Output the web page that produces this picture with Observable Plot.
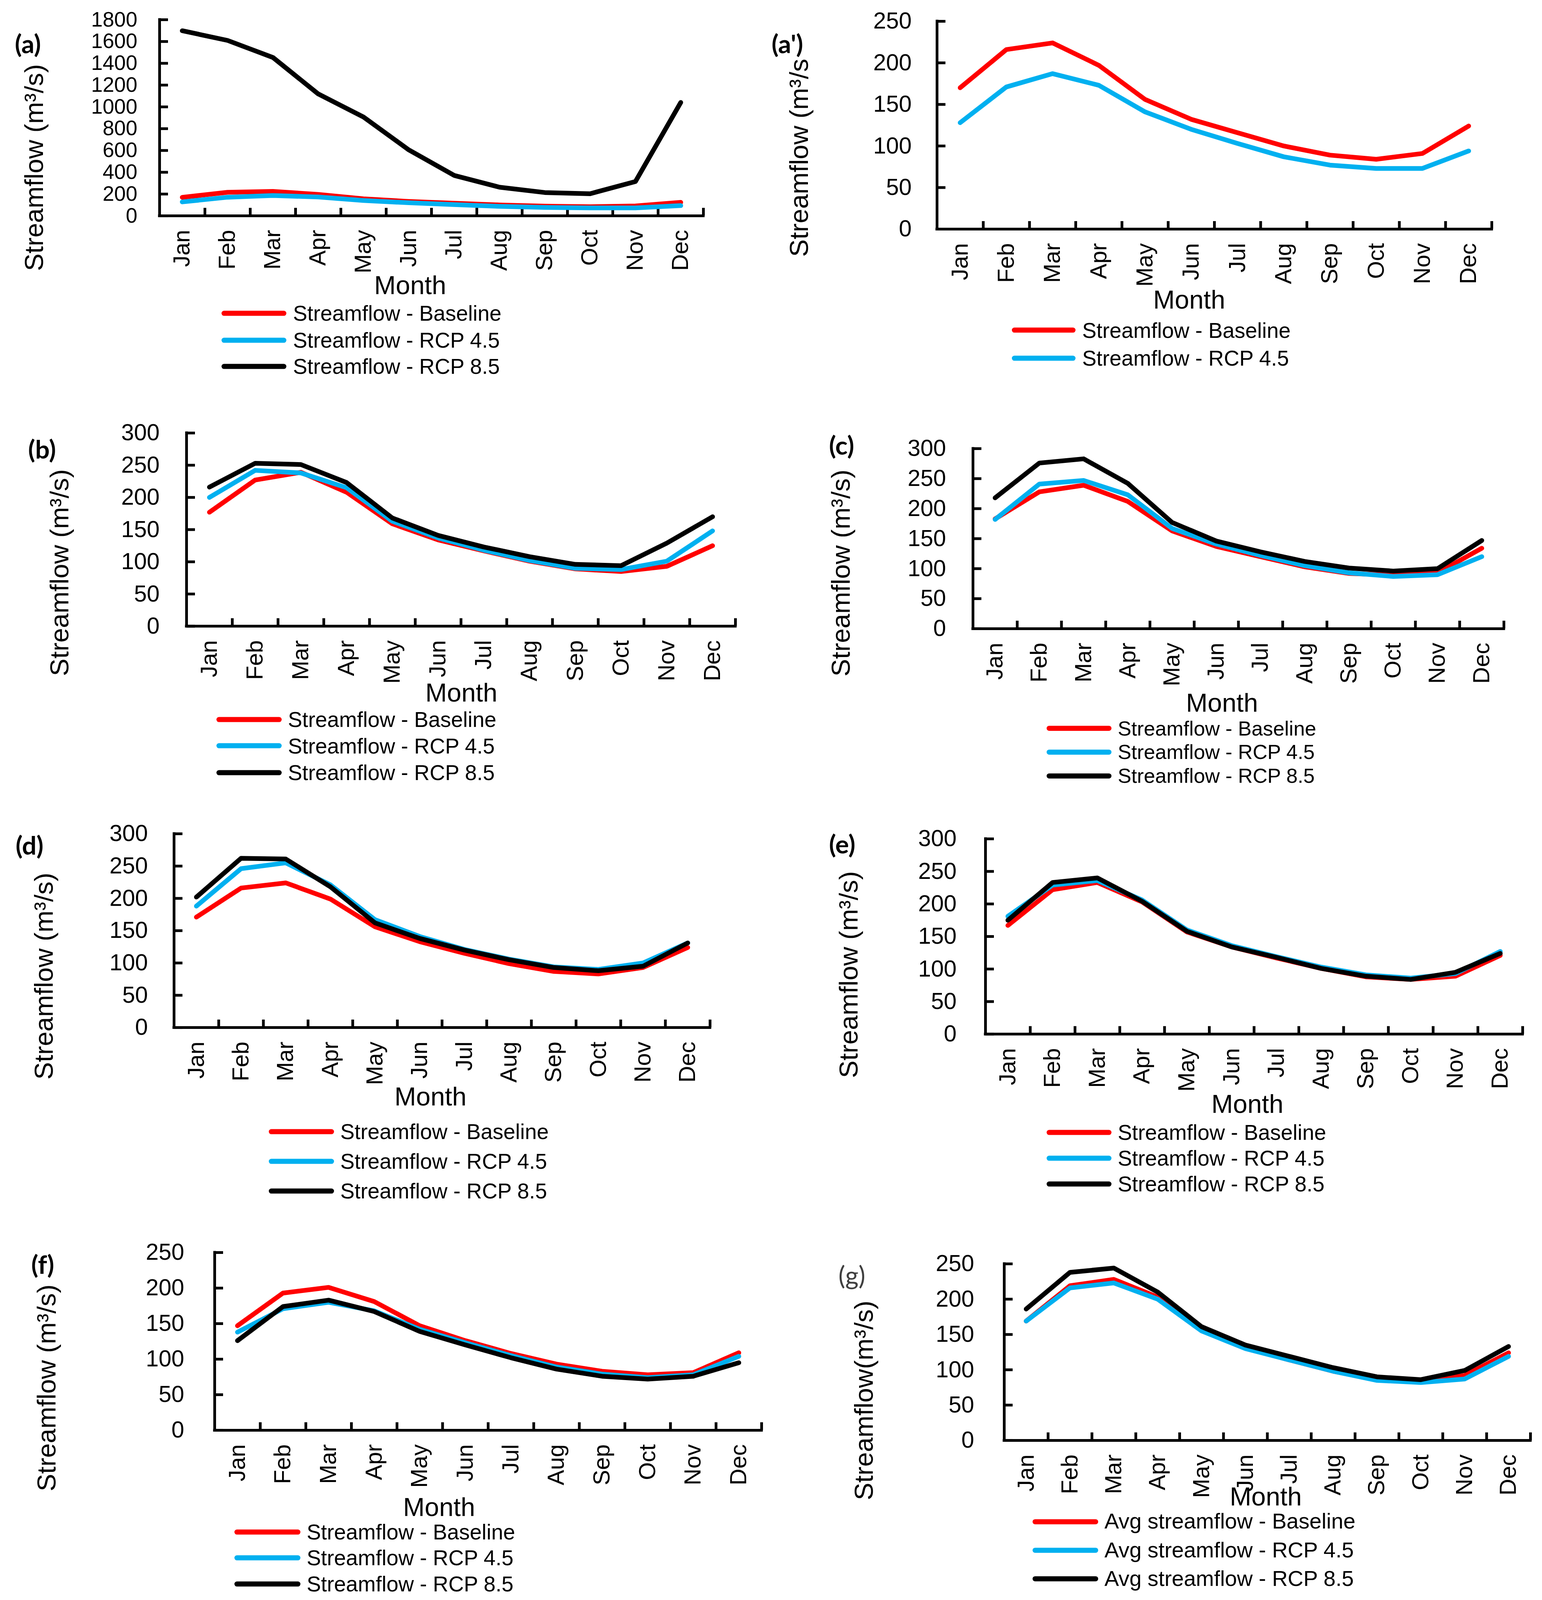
<!DOCTYPE html>
<html>
<head>
<meta charset="utf-8">
<script src="https://cdn.jsdelivr.net/npm/d3@7"></script>
<script src="https://cdn.jsdelivr.net/npm/@observablehq/plot@0.6"></script>
<style>
  html, body { margin: 0; padding: 0; background: #fff; }
  #page { position: relative; width: 3947px; overflow: hidden; background: #fff;
          font-family: "Liberation Sans", Arial, sans-serif; color: #000; }
  .abs { position: absolute; white-space: nowrap; line-height: 1; }
  .ytitle { transform: translate(-50%, -50%) rotate(-90deg); }
  .xtitle { transform: translate(-50%, -50%); }
  .plabel { font-family: Lato, "Open Sans", sans-serif; font-weight: bold; background: #fff; }
  .legrow { display: flex; align-items: center; transform: translateY(-50%); }
  .sw { display: inline-block; height: 13px; border-radius: 7px; }
</style>
</head>
<body>
<div id="page"></div>
<script>
// ---------------- data ----------------
const months = ["Jan","Feb","Mar","Apr","May","Jun","Jul","Aug","Sep","Oct","Nov","Dec"];

const ticks1800 = [0, 200, 400, 600, 800, 1000, 1200, 1400, 1600, 1800];
const ticks250 = [0, 50, 100, 150, 200, 250];
const ticks300 = [0, 50, 100, 150, 200, 250, 300];

const legendLabels = ["Streamflow - Baseline", "Streamflow - RCP 4.5", "Streamflow - RCP 8.5"];
const legendLabelsAvg = ["Avg streamflow - Baseline", "Avg streamflow - RCP 4.5", "Avg streamflow - RCP 8.5"];
const panelLabels = ["(a)", "(a')", "(b)", "(c)", "(d)", "(e)", "(f)", "(g)"];
const yTitle = "Streamflow (m³/s)";
const yTitleCut = "Streamflow (m³/s";
const yTitleG = "Streamflow(m³/s)";
const xTitle = "Month";

const aBaseline = [170, 216, 224, 197, 156, 132, 116, 100, 89, 84, 91, 124];
const aRcp45    = [128, 171, 187, 173, 141, 120, 103, 87, 77, 73, 73, 94];
const aRcp85    = [1699, 1610, 1454, 1119, 907, 605, 371, 263, 214, 203, 315, 1041];

const bBaseline = [177, 227, 239, 208, 159, 134, 117, 101, 89, 85, 93, 125];
const bRcp45    = [200, 242, 238, 215, 163, 137, 118, 102, 90, 88, 101, 148];
const bRcp85    = [216, 253, 251, 223, 168, 141, 123, 108, 96, 94, 129, 170];

const cBaseline = [183, 228, 239, 212, 163, 137, 120, 103, 92, 89, 93, 134];
const cRcp45    = [182, 241, 247, 223, 167, 141, 122, 105, 93, 87, 90, 120];
const cRcp85    = [218, 276, 283, 242, 177, 146, 128, 112, 101, 96, 100, 147];

const dBaseline = [171, 216, 224, 199, 156, 133, 115, 99, 87, 83, 93, 124];
const dRcp45    = [188, 246, 255, 221, 167, 141, 121, 106, 94, 90, 100, 131];
const dRcp85    = [202, 262, 261, 218, 162, 138, 120, 105, 93, 88, 95, 131];

const eBaseline = [167, 222, 233, 203, 157, 134, 117, 101, 88, 84, 89, 121];
const eRcp45    = [181, 229, 236, 206, 160, 136, 119, 103, 91, 86, 93, 127];
const eRcp85    = [175, 233, 240, 204, 158, 134, 118, 101, 89, 84, 95, 124];

const fBaseline = [147, 193, 201, 181, 147, 126, 108, 93, 83, 78, 81, 109];
const fRcp45    = [138, 171, 180, 168, 142, 123, 105, 89, 79, 74, 78, 104];
const fRcp85    = [126, 174, 183, 167, 139, 120, 102, 86, 76, 72, 76, 95];

const gBaseline = [169, 219, 228, 203, 156, 131, 114, 98, 86, 83, 92, 124];
const gRcp45    = [169, 216, 223, 200, 155, 130, 114, 98, 85, 82, 87, 119];
const gRcp85    = [186, 238, 244, 210, 161, 135, 119, 103, 90, 86, 99, 133];

const colors = ["#FF0000", "#00B0F0", "#000000"];

// ---------------- layout (reference pixel frame 3947 x 5474) ----------------
const REF_H = 5474;
const k = Math.min(1, (window.innerHeight || REF_H) / REF_H);   // fit the visible window height
const fk = 1 - (1 - k) * 0.72;                                  // font scale
const Y = v => v * k;

const panels = [
  {label: panelLabels[0], series: [aBaseline, aRcp45, aRcp85], ticks: ticks1800, tickFont: 65,
   L: 408, R: 1800, T: 67, B: 738, tickPad: 57,
   xt: [1050, 975], yt: [87, 573], ytText: yTitle, lab: [38, 104],
   leg: {x1: 567, x2: 733, tx: 750, rows: [1072, 1164, 1254]}, legText: legendLabels},
  {label: panelLabels[1], series: [aBaseline, aRcp45], ticks: ticks250, tickFont: 72,
   L: 2398, R: 3818, T: 72, B: 783, tickPad: 65,
   xt: [3044, 1025], yt: [2045, 540], ytText: yTitleCut, lab: [1975, 104],
   leg: {x1: 2590, x2: 2753, tx: 2770, rows: [1130, 1225]}, legText: legendLabels},
  {label: panelLabels[2], series: [bBaseline, bRcp45, bRcp85], ticks: ticks300, tickFont: 72,
   L: 477, R: 1882, T: 1481, B: 2142, tickPad: 69,
   xt: [1181, 2369], yt: [152, 1959], ytText: yTitle, lab: [72, 1492],
   leg: {x1: 554, x2: 721, tx: 737, rows: [2462, 2552, 2643]}, legText: legendLabels},
  {label: panelLabels[3], series: [cBaseline, cRcp45, cRcp85], ticks: ticks300, tickFont: 72,
   L: 2490, R: 3849, T: 1534, B: 2150, tickPad: 69,
   xt: [3128, 2404], yt: [2152, 1961], ytText: yTitle, lab: [2122, 1478],
   leg: {x1: 2679, x2: 2845, tx: 2861, rows: [2492, 2573, 2654]}, legText: legendLabels},
  {label: panelLabels[4], series: [dBaseline, dRcp45, dRcp85], ticks: ticks300, tickFont: 72,
   L: 445, R: 1817, T: 2852, B: 3515, tickPad: 67,
   xt: [1102, 3752], yt: [112, 3340], ytText: yTitle, lab: [40, 2846],
   leg: {x1: 688, x2: 855, tx: 871, rows: [3872, 3973, 4075]}, legText: legendLabels},
  {label: panelLabels[5], series: [eBaseline, eRcp45, eRcp85], ticks: ticks300, tickFont: 72,
   L: 2522, R: 3897, T: 2869, B: 3537, tickPad: 74,
   xt: [3193, 3777], yt: [2172, 3335], ytText: yTitle, lab: [2122, 2842],
   leg: {x1: 2679, x2: 2845, tx: 2861, rows: [3874, 3963, 4051]}, legText: legendLabels},
  {label: panelLabels[6], series: [fBaseline, fRcp45, fRcp85], ticks: ticks250, tickFont: 72,
   L: 549, R: 1949, T: 4284, B: 4892, tickPad: 78,
   xt: [1124, 5156], yt: [119, 4748], ytText: yTitle, lab: [80, 4280],
   leg: {x1: 600, x2: 769, tx: 785, rows: [5241, 5330, 5419]}, legText: legendLabels},
  {label: panelLabels[7], series: [gBaseline, gRcp45, gRcp85], ticks: ticks250, tickFont: 72,
   L: 2570, R: 3917, T: 4324, B: 4928, tickPad: 77,
   xt: [3240, 5120], yt: [2211, 4791], ytText: yTitleG, lab: [2146, 4318], labNormal: true,
   leg: {x1: 2643, x2: 2811, tx: 2827, rows: [5206, 5304, 5402]}, legText: legendLabelsAvg, legFont: 68}
];

const page = document.getElementById("page");
page.style.height = Y(REF_H) + "px";
const mL = 260, mR = 40, mT = 40, mB = 260;
const monthIdx = months.map((m, i) => i + 1);
const bounds = d3.range(0, months.length + 1).map(i => i + 0.5);

function addDiv(cls, text, left, top, fontPx, extra) {
  const d = document.createElement("div");
  d.className = "abs " + cls;
  d.textContent = text;
  d.style.left = left + "px";
  d.style.top = top + "px";
  d.style.fontSize = fontPx + "px";
  if (extra) Object.assign(d.style, extra);
  page.appendChild(d);
  return d;
}

for (const p of panels) {
  const fw = p.R - p.L, fh = (p.B - p.T) * k;
  const yMax = p.ticks[p.ticks.length - 1];
  const lineMarks = p.series.map((arr, si) =>
    Plot.line(months.map((m, i) => ({m: i + 1, v: arr[i]})), {
      x: "m", y: "v", stroke: colors[si], strokeWidth: 12,
      strokeLinejoin: "round", strokeLinecap: "round"
    })
  );
  const svg = Plot.plot({
    width: fw + mL + mR,
    height: fh + mT + mB,
    marginLeft: mL, marginRight: mR, marginTop: mT, marginBottom: mB,
    x: {domain: [0.5, months.length + 0.5], axis: null},
    y: {domain: [0, yMax], axis: null},
    style: {fontFamily: '"Liberation Sans", Arial, sans-serif', background: "transparent", color: "#000", overflow: "visible"},
    marks: [
      Plot.gridY({ticks: p.ticks, stroke: "#000", strokeOpacity: 1, strokeWidth: 7, insetRight: fw - 22}),
      Plot.gridX({ticks: bounds, stroke: "#000", strokeOpacity: 1, strokeWidth: 7, insetTop: fh - 20}),
      Plot.ruleX([0.5], {stroke: "#000", strokeWidth: 7, strokeLinecap: "square"}),
      Plot.ruleY([0], {stroke: "#000", strokeWidth: 7, strokeLinecap: "square"}),
      Plot.axisY({ticks: p.ticks, tickFormat: d => String(d), tickSize: 0, tickPadding: p.tickPad,
                  fontSize: p.tickFont * fk, label: null, fill: "#000"}),
      Plot.axisX({ticks: monthIdx, tickFormat: d => months[d - 1], tickSize: 0, tickPadding: 48 * k,
                  tickRotate: -90, fontSize: 72 * fk, label: null, fill: "#000"}),
      ...lineMarks
    ]
  });
  svg.style.position = "absolute";
  svg.style.left = (p.L - mL) + "px";
  svg.style.top = (Y(p.T) - mT) + "px";
  page.appendChild(svg);

  addDiv("ytitle", p.ytText, p.yt[0], Y(p.yt[1]), 82 * fk);
  addDiv("xtitle", xTitle, p.xt[0], Y(p.xt[1]), 81 * fk);
  addDiv("plabel", p.label, p.lab[0], Y(p.lab[1]), 80 * fk,
         p.labNormal ? {fontWeight: "normal", color: "#404040"} : null);

  const rows = p.leg.rows;
  const spacing = d3.min(d3.pairs(rows), ([a, b]) => b - a) * k;
  const legFont = Math.min((p.legFont || 67) * fk, spacing / 1.16);
  p.series.forEach((arr, si) => {
    const row = document.createElement("div");
    row.className = "abs legrow";
    row.style.left = p.leg.x1 + "px";
    row.style.top = Y(rows[si]) + "px";
    row.style.fontSize = legFont + "px";
    const sw = document.createElement("span");
    sw.className = "sw";
    sw.style.width = (p.leg.x2 - p.leg.x1) + "px";
    sw.style.background = colors[si];
    const tx = document.createElement("span");
    tx.textContent = p.legText[si];
    tx.style.marginLeft = (p.leg.tx - p.leg.x2) + "px";
    row.appendChild(sw);
    row.appendChild(tx);
    page.appendChild(row);
  });
}
</script>
</body>
</html>
